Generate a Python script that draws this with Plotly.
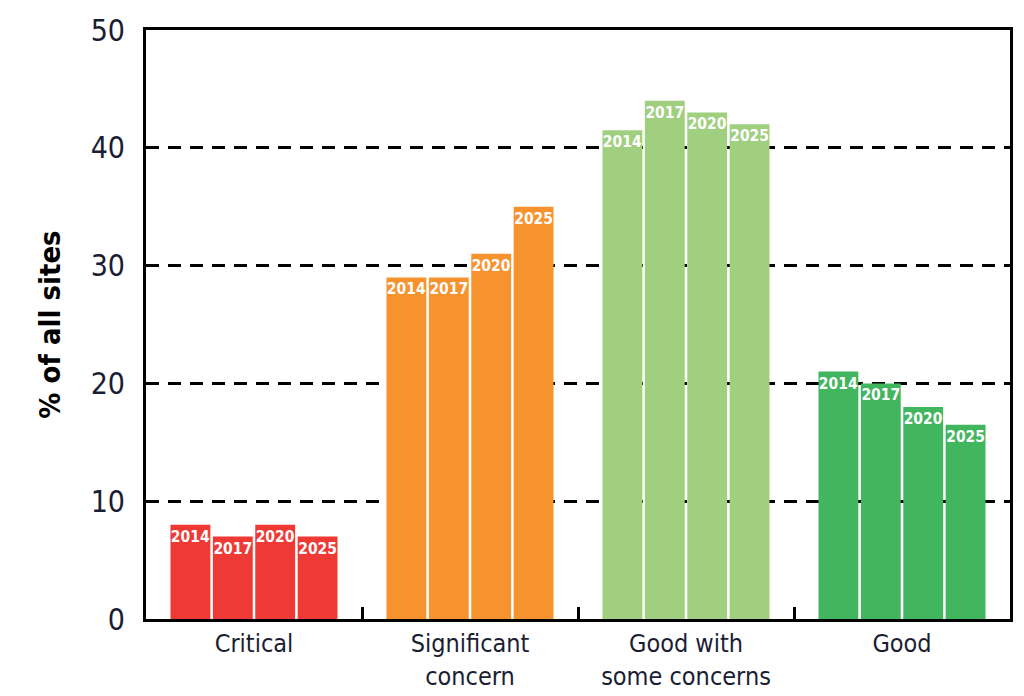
import plotly.graph_objects as go

# Categories and values (% of all sites)
categories = ["Critical", "Significant<br>concern", "Good with<br>some concerns", "Good"]
years = ["2014", "2017", "2020", "2025"]
values = {
    "2014": [8, 29, 41.5, 21],
    "2017": [7, 29, 44, 20],
    "2020": [8, 31, 43, 18],
    "2025": [7, 35, 42, 16.5],
}
cat_colors = ["#EF3934", "#F7932F", "#9FCF7F", "#42B55F"]

y_ticks = [0, 10, 20, 30, 40, 50]

font_family = "Liberation Sans Narrow, DejaVu Sans Condensed, Arial Narrow, sans-serif"
text_color = "#1b1d33"

fig = go.Figure()

for yr in years:
    fig.add_trace(go.Bar(
        x=categories,
        y=values[yr],
        name=yr,
        marker=dict(color=cat_colors, line=dict(width=0)),
        text=[yr] * len(categories),
        textposition="inside",
        insidetextanchor="end",
        textangle=0,
        constraintext="none",
        textfont=dict(family=font_family, size=15.5, color="white", weight="bold"),
    ))

fig.update_layout(
    width=1024,
    height=696,
    barmode="group",
    bargap=0.215,
    bargroupgap=0.06,
    showlegend=False,
    plot_bgcolor="white",
    paper_bgcolor="white",
    margin=dict(l=146, r=14, t=30, b=77),
    font=dict(family=font_family, color=text_color),
)

fig.update_xaxes(
    automargin=False,
    showline=True, linecolor="black", linewidth=3, mirror=True,
    tickson="boundaries", ticks="inside", ticklen=12, tickwidth=3, tickcolor="black",
    tickfont=dict(size=25, color=text_color),
    ticklabelstandoff=0,
    showgrid=False,
)

fig.update_yaxes(
    automargin=False,
    range=[0, 50],
    tickvals=y_ticks,
    showline=True, linecolor="black", linewidth=3, mirror=True,
    ticks="", ticklabelstandoff=12,
    tickfont=dict(size=30, color=text_color),
    showgrid=True, gridcolor="black", gridwidth=2.5, griddash="13px,9px",
    zeroline=False,
    title=dict(text="<b>% of all sites</b>", font=dict(size=29, color="black"), standoff=22),
)

# page body has a default margin; drop it so the figure sits at the window corner
fig.write_html(
    "out.html",
    config={"displayModeBar": False},
    post_script="document.body.style.margin='0';",
)
